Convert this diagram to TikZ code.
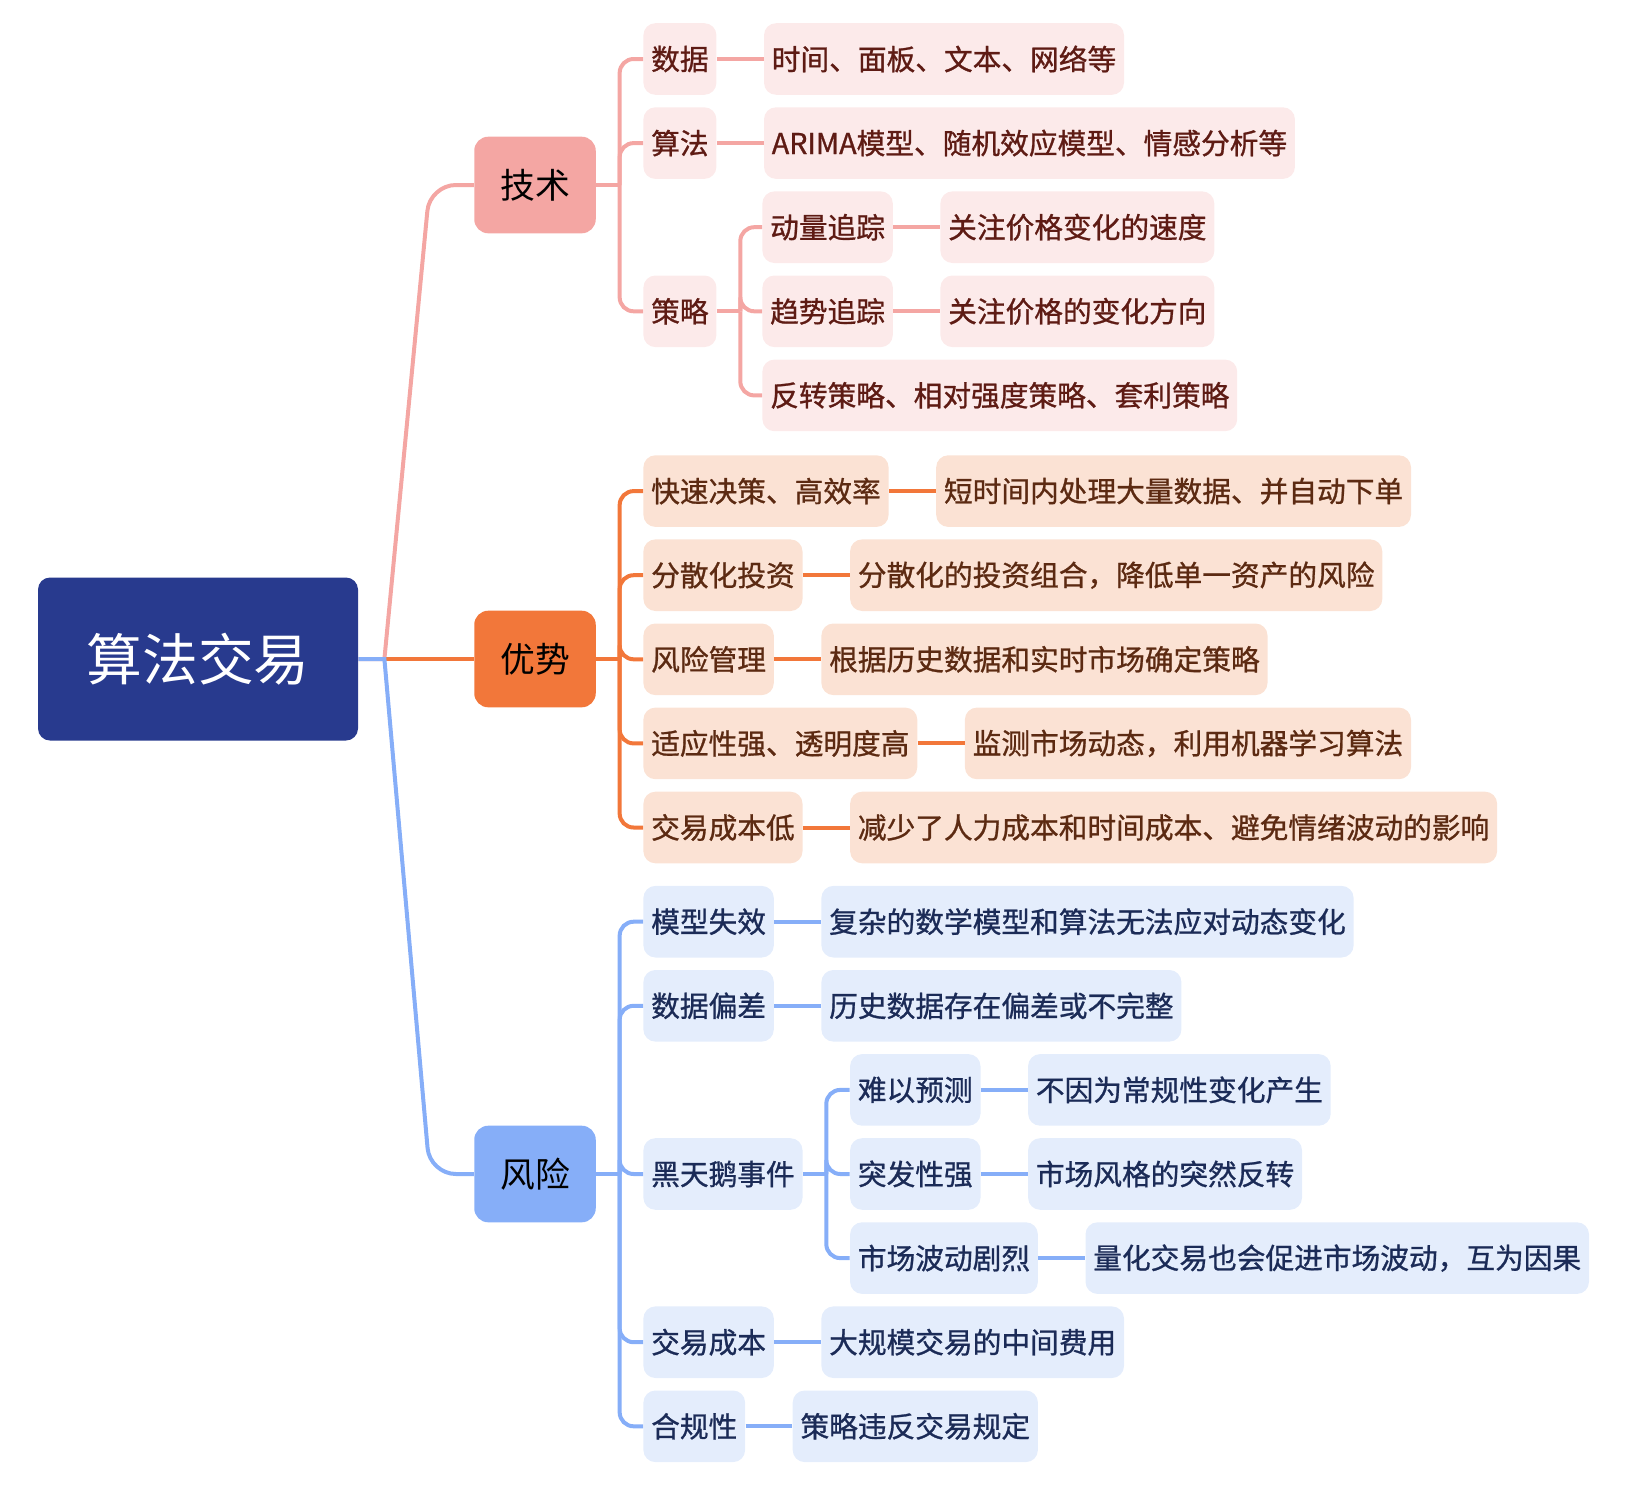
\documentclass[tikz,border=0pt]{standalone}
\usepackage{fontspec}
\setmainfont{Noto Sans CJK SC}
\newfontfamily\cjkmid[FakeBold=0.9]{Noto Sans CJK SC}
\usetikzlibrary{positioning,calc}
\definecolor{rootblue}{HTML}{283A8E}
\definecolor{techmain}{HTML}{F4A6A3}
\definecolor{techsoft}{HTML}{FCEAEA}
\definecolor{techdark}{HTML}{5E1B14}
\definecolor{advmain}{HTML}{F2773A}
\definecolor{advsoft}{HTML}{FBE2D4}
\definecolor{advdark}{HTML}{5C2A12}
\definecolor{riskmain}{HTML}{86AEF8}
\definecolor{risksoft}{HTML}{E4EDFC}
\definecolor{riskdark}{HTML}{1B2B57}
\tikzset{
  topic/.style={rounded corners=7pt, minimum width=60.75pt, minimum height=48.3pt,
    inner sep=0pt, font=\fontsize{17.4pt}{20pt}\selectfont, text=black},
  item/.style={rounded corners=6pt, minimum height=35.8pt, inner xsep=3.9pt,
    inner ysep=0pt, font=\cjkmid\fontsize{14.35pt}{17pt}\selectfont},
  techbox/.style={item, fill=techsoft, text=techdark},
  advbox/.style={item, fill=advsoft, text=advdark},
  riskbox/.style={item, fill=risksoft, text=riskdark},
  techline/.style={draw=techmain, line width=2pt},
  advline/.style={draw=advmain, line width=2pt},
  riskline/.style={draw=riskmain, line width=2pt},
  node distance=23.4pt
}
\begin{document}
\begin{tikzpicture}[x=0.5pt, y=-0.5pt]
  \useasboundingbox (0,0) rectangle (1628,1488);
  % centre topic
  \node[fill=rootblue, rounded corners=6pt, minimum width=160pt, minimum height=81.5pt,
    text=white, font=\fontsize{27.9pt}{32pt}\selectfont] (root) at (198,659) {算法交易};
  % main branches
  \node[topic, fill=techmain] (tech) at (535,185) {技术};
  \node[topic, fill=advmain] (adv) at (535,659) {优势};
  \node[topic, fill=riskmain] (risk) at (535,1174) {风险};

  % technique branch
  \node[techbox, anchor=west] (tdata) at (643,59) {数据};
  \node[techbox, anchor=west] (talgo) at (643,143.1) {算法};
  \node[techbox, anchor=west] (tstrat) at (643,311.3) {策略};
  \node[techbox, right=of tdata] (tdatax) {时间、面板、文本、网络等};
  \node[techbox, right=of talgo] (talgox) {ARIMA模型、随机效应模型、情感分析等};
  \node[techbox, anchor=west] (ts1) at (762,227.2) {动量追踪};
  \node[techbox, anchor=west] (ts2) at (762,311.3) {趋势追踪};
  \node[techbox, anchor=west] (ts3) at (762,395.4) {反转策略、相对强度策略、套利策略};
  \node[techbox, right=of ts1] (ts1x) {关注价格变化的速度};
  \node[techbox, right=of ts2] (ts2x) {关注价格的变化方向};

  % advantage branch
  \node[advbox, anchor=west] (a1) at (643,491.1) {快速决策、高效率};
  \node[advbox, anchor=west] (a2) at (643,575.2) {分散化投资};
  \node[advbox, anchor=west] (a3) at (643,659.3) {风险管理};
  \node[advbox, anchor=west] (a4) at (643,743.4) {适应性强、透明度高};
  \node[advbox, anchor=west] (a5) at (643,827.5) {交易成本低};
  \node[advbox, right=of a1] (a1x) {短时间内处理大量数据、并自动下单};
  \node[advbox, right=of a2] (a2x) {分散化的投资组合，降低单一资产的风险};
  \node[advbox, right=of a3] (a3x) {根据历史数据和实时市场确定策略};
  \node[advbox, right=of a4] (a4x) {监测市场动态，利用机器学习算法};
  \node[advbox, right=of a5] (a5x) {减少了人力成本和时间成本、避免情绪波动的影响};

  % risk branch
  \node[riskbox, anchor=west] (r1) at (643,921.7) {模型失效};
  \node[riskbox, anchor=west] (r2) at (643,1005.8) {数据偏差};
  \node[riskbox, anchor=west] (r3) at (643,1174) {黑天鹅事件};
  \node[riskbox, anchor=west] (r4) at (643,1342.2) {交易成本};
  \node[riskbox, anchor=west] (r5) at (643,1426.3) {合规性};
  \node[riskbox, right=of r1] (r1x) {复杂的数学模型和算法无法应对动态变化};
  \node[riskbox, right=of r2] (r2x) {历史数据存在偏差或不完整};
  \node[riskbox, right=of r4] (r4x) {大规模交易的中间费用};
  \node[riskbox, right=of r5] (r5x) {策略违反交易规定};
  \node[riskbox, anchor=west] (r3a) at ($(r3.east)+(23.4pt,-84.1)$) {难以预测};
  \node[riskbox, right=of r3] (r3b) {突发性强};
  \node[riskbox, anchor=west] (r3c) at ($(r3.east)+(23.4pt,84.1)$) {市场波动剧烈};
  \node[riskbox, right=of r3a] (r3ax) {不因为常规性变化产生};
  \node[riskbox, right=of r3b] (r3bx) {市场风格的突然反转};
  \node[riskbox, right=of r3c] (r3cx) {量化交易也会促进市场波动，互为因果};

  % connectors from the centre
  \draw[techline] (root.east) -- ++(13pt,0) [rounded corners=13pt]
    -- ($(tech.west)+(-22pt,0)$) -- (tech.west);
  \draw[advline] ($(root.east)+(13pt,0)$) -- (adv.west);
  \draw[riskline] (root.east) -- ++(13pt,0) [rounded corners=13pt]
    -- ($(risk.west)+(-22pt,0)$) -- (risk.west);

  % technique connectors
  \draw[techline] (tech.east) -- ++(11.75pt,0);
  \foreach \kid in {tdata,talgo,tstrat}
    \draw[techline, rounded corners=7pt] ($(tech.east)+(11.75pt,0)$) |- (\kid.west);
  \draw[techline] (tstrat.east) -- ++(11.75pt,0);
  \foreach \kid in {ts1,ts2,ts3}
    \draw[techline, rounded corners=7pt] ($(tstrat.east)+(11.75pt,0)$) |- (\kid.west);
  \draw[techline] (tdata.east) -- (tdatax.west);
  \draw[techline] (talgo.east) -- (talgox.west);
  \draw[techline] (ts1.east) -- (ts1x.west);
  \draw[techline] (ts2.east) -- (ts2x.west);

  % advantage connectors
  \draw[advline] (adv.east) -- ++(11.75pt,0);
  \foreach \kid in {a1,a2,a3,a4,a5} {
    \draw[advline, rounded corners=7pt] ($(adv.east)+(11.75pt,0)$) |- (\kid.west);
    \draw[advline] (\kid.east) -- (\kid x.west);
  }

  % risk connectors
  \draw[riskline] (risk.east) -- ++(11.75pt,0);
  \foreach \kid in {r1,r2,r3,r4,r5}
    \draw[riskline, rounded corners=7pt] ($(risk.east)+(11.75pt,0)$) |- (\kid.west);
  \foreach \kid in {r1,r2,r4,r5}
    \draw[riskline] (\kid.east) -- (\kid x.west);
  \draw[riskline] (r3.east) -- ++(11.7pt,0);
  \foreach \kid in {r3a,r3b,r3c} {
    \draw[riskline, rounded corners=7pt] ($(r3.east)+(11.7pt,0)$) |- (\kid.west);
    \draw[riskline] (\kid.east) -- (\kid x.west);
  }
\end{tikzpicture}
\end{document}
